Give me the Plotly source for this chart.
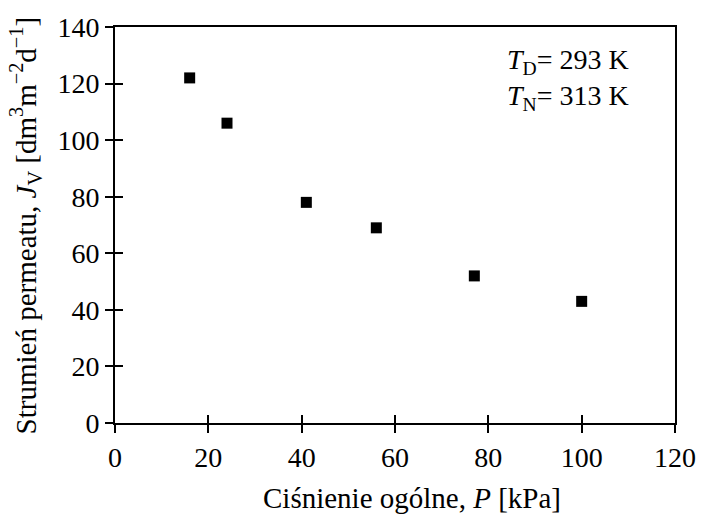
import plotly.graph_objects as go

pressure = [16, 24, 41, 56, 77, 100]
flux = [122, 106, 78, 69, 52, 43]
x_ticks = [0, 20, 40, 60, 80, 100, 120]
y_ticks = [0, 20, 40, 60, 80, 100, 120, 140]

FONT = "Liberation Serif"

fig = go.Figure()
fig.add_trace(go.Scatter(
    x=pressure, y=flux, mode="markers",
    marker=dict(symbol="square", size=11, color="black"),
    showlegend=False, cliponaxis=False,
))
# invisible trace to activate overlay axes (inside half of cross ticks)
fig.add_trace(go.Scatter(x=[x_ticks[0]], y=[y_ticks[0]], xaxis="x2", yaxis="y2",
                         mode="markers", marker=dict(opacity=0), showlegend=False,
                         hoverinfo="skip"))

axis_common = dict(showgrid=False, zeroline=False, linecolor="black", linewidth=2,
                   tickcolor="black", tickwidth=2, ticklen=8,
                   tickfont=dict(family=FONT, size=28, color="black"))

fig.update_layout(
    width=708, height=514,
    margin=dict(l=115, r=26, t=20, b=91),
    paper_bgcolor="white", plot_bgcolor="white",
    font=dict(family=FONT, size=28, color="black"),
    xaxis=dict(range=[0, 120], tickvals=x_ticks, ticks="outside", showline=True,
               mirror=True, **axis_common),
    yaxis=dict(range=[0, 140], tickvals=y_ticks, ticks="outside", showline=True,
               mirror=True, **axis_common),
    xaxis2=dict(range=[0, 120], tickvals=x_ticks, ticks="inside", showline=False,
                showticklabels=False, overlaying="x", showgrid=False, zeroline=False,
                tickcolor="black", tickwidth=2, ticklen=8),
    yaxis2=dict(range=[0, 140], tickvals=y_ticks, ticks="inside", showline=False,
                showticklabels=False, overlaying="y", side="left", showgrid=False,
                zeroline=False, tickcolor="black", tickwidth=2, ticklen=8),
    annotations=[
        dict(text="Ciśnienie ogólne, <i>P</i> [kPa]", xref="paper", yref="paper",
             x=0.53, y=-0.19, xanchor="center", yanchor="middle", showarrow=False,
             font=dict(family=FONT, size=29, color="black")),
        dict(text="Strumień permeatu, <i>J</i><sub>V</sub> [dm<sup>3</sup>m<sup>−2</sup>d<sup>−1</sup>]",
             xref="paper", yref="paper", x=-0.16, y=0.5, xanchor="center",
             yanchor="middle", textangle=-90, showarrow=False,
             font=dict(family=FONT, size=29, color="black")),
        dict(text="<i>T</i><sub>D</sub>= 293 K<br><i>T</i><sub>N</sub>= 313 K",
             xref="paper", yref="paper", x=0.697, y=0.962, xanchor="left",
             yanchor="top", align="left", showarrow=False,
             font=dict(family=FONT, size=28, color="black")),
    ],
)

fig.write_html("out.html")
